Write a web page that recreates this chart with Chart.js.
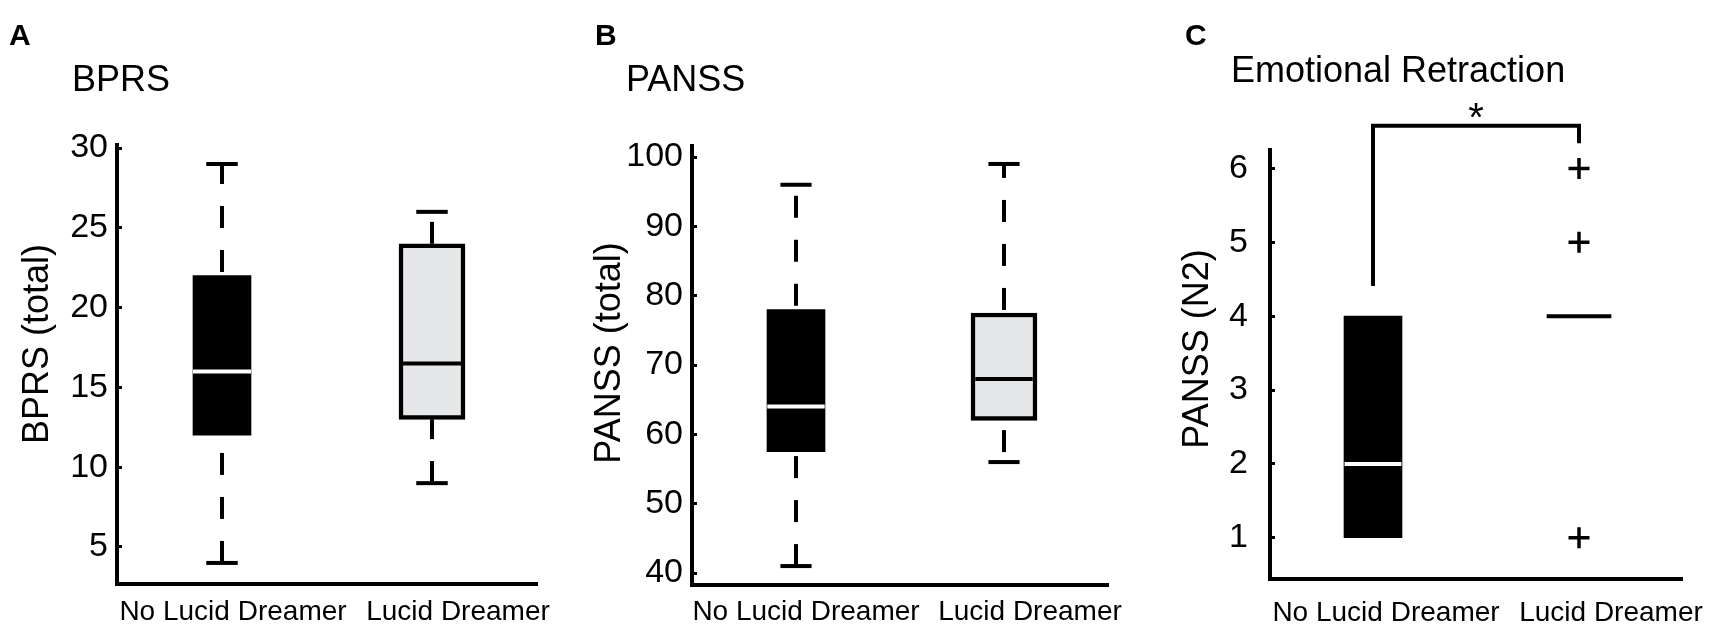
<!DOCTYPE html>
<html>
<head>
<meta charset="utf-8">
<script src="https://cdn.jsdelivr.net/npm/chart.js@4.4.1/dist/chart.umd.min.js"></script>
<style>
  body { margin: 0; background: #fff; width: 1710px; height: 626px; overflow: hidden; position: relative; }
  canvas { position: absolute; top: 0; }
</style>
</head>
<body>
<canvas id="chartA" width="570" height="626" style="left:0px"></canvas>
<canvas id="chartB" width="570" height="626" style="left:570px"></canvas>
<canvas id="chartC" width="570" height="626" style="left:1140px"></canvas>
<script>
const groups = ["No Lucid Dreamer", "Lucid Dreamer"];

// A - BPRS (total)
const bprsMin = [4, 9];
const bprsQ1 = [12, 13];
const bprsMedian = [16, 16.5];
const bprsQ3 = [22, 24];
const bprsMax = [29, 26];
const bprsTicks = [5, 10, 15, 20, 25, 30];

// B - PANSS (total)
const panssMin = [41, 56];
const panssQ1 = [57.5, 62];
const panssMedian = [64, 68];
const panssQ3 = [78, 77.5];
const panssMax = [96, 99];
const panssTicks = [40, 50, 60, 70, 80, 90, 100];

// C - PANSS (N2), emotional retraction
const n2Min = [1, 4];
const n2Q1 = [1, 4];
const n2Median = [2, 4];
const n2Q3 = [4, 4];
const n2Max = [4, 4];
const n2Outliers = [[], [6, 5, 1]];
const n2Ticks = [1, 2, 3, 4, 5, 6];
const sigBar = [4.41, 6.58, 6.34];   // left foot, top, right foot

const FONT = '"Liberation Sans", Arial, Helvetica, sans-serif';
const boxFill = ['#000000', '#e6e7e8'];
const medianColor = ['#ffffff', '#000000'];

const lineBase = {
  type: 'line', showLine: true, fill: false, tension: 0,
  pointRadius: 0, pointHoverRadius: 0, pointHitRadius: 0,
  borderColor: '#000', borderWidth: 4, borderCapStyle: 'butt'
};

function seg(x1, y1, x2, y2, extra) {
  return Object.assign({}, lineBase, { data: [{ x: x1, y: y1 }, { x: x2, y: y2 }] }, extra || {});
}

function boxDatasets(s) {
  const meds = [], boxes = [], rest = [];
  for (let g = 0; g < 2; g++) {
    const x = g + 1;
    const flat = s.q1[g] === s.q3[g];
    const hw = flat ? 0.157 : 0.138;
    meds.push(seg(x - hw, s.med[g], x + hw, s.med[g], { borderColor: flat ? '#000' : medianColor[g] }));
    if (!flat) {
      boxes.push({
        type: 'bar', grouped: false, borderSkipped: false,
        barThickness: g === 0 ? 58 : 66,
        backgroundColor: boxFill[g], borderColor: '#000', borderWidth: g === 0 ? 0 : 4.5,
        data: [{ x: x, y: [s.q1[g], s.q3[g]] }]
      });
    }
    if (s.max[g] > s.q3[g]) {
      rest.push(seg(x, s.max[g], x, s.q3[g], { borderDash: [22, 22], borderDashOffset: s.dash[g][0] }));
      rest.push(seg(x - 0.075, s.max[g], x + 0.075, s.max[g]));
    }
    if (s.min[g] < s.q1[g]) {
      rest.push(seg(x, s.min[g], x, s.q1[g], { borderDash: [22, 22], borderDashOffset: s.dash[g][1] }));
      rest.push(seg(x - 0.075, s.min[g], x + 0.075, s.min[g]));
    }
    if (s.out && s.out[g].length) {
      rest.push({
        type: 'line', showLine: false,
        data: s.out[g].map(v => ({ x: x, y: v })),
        pointStyle: 'cross', pointRadius: 10.5, pointHoverRadius: 10.5,
        pointBorderColor: '#000', pointBorderWidth: 3.5, borderColor: '#000'
      });
    }
  }
  return meds.concat(boxes, rest);
}

const panelText = {
  id: 'panelText',
  afterDraw(chart, args, o) {
    const ctx = chart.ctx;
    const xs = chart.scales.x, ys = chart.scales.y;
    ctx.save();
    ctx.fillStyle = '#000';
    ctx.textBaseline = 'alphabetic';
    ctx.textAlign = 'left';
    ctx.font = 'bold 30px ' + FONT;
    ctx.fillText(o.letter, o.letterX, 45);
    ctx.font = '36px ' + FONT;
    ctx.fillText(o.title, o.titleX, o.titleY);
    ctx.save();
    ctx.translate(o.yTitleX, o.yTitleY);
    ctx.rotate(-Math.PI / 2);
    ctx.textAlign = 'center';
    ctx.fillText(o.yTitle, 0, 0);
    ctx.restore();
    ctx.font = '28px ' + FONT;
    ctx.textAlign = 'center';
    groups.forEach((name, i) => {
      ctx.fillText(name, xs.getPixelForValue(i + 1) + o.labelDx[i], o.labelY);
    });
    if (o.star) {
      ctx.font = '40px ' + FONT;
      ctx.fillText(o.star.text, xs.getPixelForValue(o.star.x), ys.getPixelForValue(o.star.y) + 5);
    }
    ctx.restore();
  }
};

function makePanel(id, p) {
  const datasets = boxDatasets(p.stats).concat(p.extra || []);
  new Chart(document.getElementById(id), {
    type: 'bar',
    data: { datasets: datasets },
    plugins: [panelText],
    options: {
      responsive: false,
      animation: false,
      events: [],
      layout: { padding: { left: 0, top: p.top, right: p.right, bottom: 0 } },
      plugins: { legend: { display: false }, tooltip: { enabled: false }, panelText: p.text },
      scales: {
        x: {
          type: 'linear', min: 0.5, max: 2.5, offset: false,
          afterFit: s => { s.height = p.xHeight; },
          border: { color: '#000', width: 4 },
          grid: { display: false },
          ticks: { display: false }
        },
        y: {
          type: 'linear', min: p.yMin, max: p.yMax, beginAtZero: false,
          afterBuildTicks: s => { s.ticks = p.ticks.map(v => ({ value: v })); },
          afterFit: s => { s.width = p.yWidth; },
          border: { color: '#000', width: 4 },
          grid: { display: true, drawOnChartArea: false, drawTicks: true, tickLength: -5, color: '#000', lineWidth: 3 },
          ticks: { color: '#000', font: { family: FONT, size: 34 }, padding: p.tickPad }
        }
      }
    }
  });
}

makePanel('chartA', {
  stats: { min: bprsMin, q1: bprsQ1, med: bprsMedian, q3: bprsQ3, max: bprsMax, dash: [[2, 0], [34, 0]] },
  ticks: bprsTicks, yMin: 2.68, yMax: 30.19,
  top: 145, right: 33, yWidth: 117, xHeight: 42, tickPad: 14,
  text: { letter: 'A', letterX: 9, title: 'BPRS', titleX: 72, titleY: 91,
          yTitle: 'BPRS (total)', yTitleX: 48, yTitleY: 344, labelDx: [11, 26], labelY: 620 }
});

makePanel('chartB', {
  stats: { min: panssMin, q1: panssQ1, med: panssMedian, q3: panssQ3, max: panssMax, dash: [[33, 0], [8, 34]] },
  ticks: panssTicks, yMin: 38.27, yMax: 101.59,
  top: 146, right: 32, yWidth: 122, xHeight: 41, tickPad: 14,
  text: { letter: 'B', letterX: 25, title: 'PANSS', titleX: 56, titleY: 91,
          yTitle: 'PANSS (total)', yTitleX: 50, yTitleY: 353, labelDx: [10, 26], labelY: 620 }
});

makePanel('chartC', {
  stats: { min: n2Min, q1: n2Q1, med: n2Median, q3: n2Q3, max: n2Max, out: n2Outliers, dash: [[0, 0], [0, 0]] },
  ticks: n2Ticks, yMin: 0.447, yMax: 6.25,
  top: 150, right: 28, yWidth: 130, xHeight: 46, tickPad: 27,
  extra: [Object.assign({}, lineBase, {
    clip: false, borderJoinStyle: 'miter',
    data: [{ x: 1, y: sigBar[0] }, { x: 1, y: sigBar[1] }, { x: 2, y: sigBar[1] }, { x: 2, y: sigBar[2] }]
  })],
  text: { letter: 'C', letterX: 45, title: 'Emotional Retraction', titleX: 91, titleY: 82,
          yTitle: 'PANSS (N2)', yTitleX: 68, yTitleY: 349, labelDx: [13, 32], labelY: 621,
          star: { text: '*', x: 1.5, y: sigBar[1] } }
});
</script>
</body>
</html>
